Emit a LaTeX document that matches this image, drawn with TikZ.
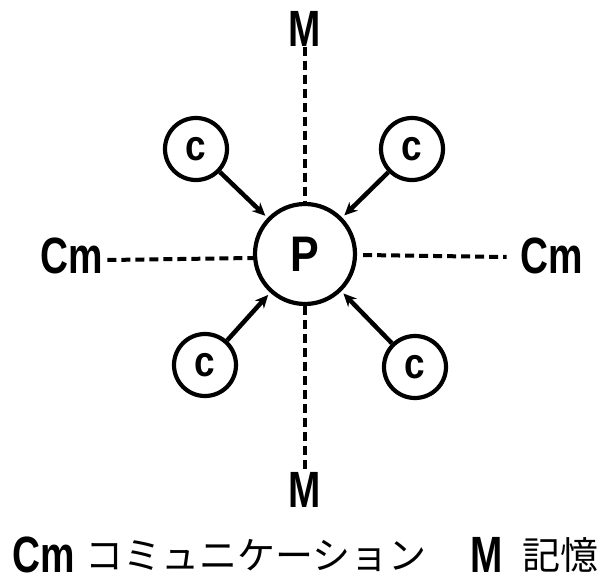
\documentclass[tikz,border=0pt]{standalone}
\usepackage{fontspec}
\setmainfont{Liberation Sans}
\newfontfamily\cond[FakeStretch=0.76]{Liberation Sans}
\newfontfamily\condr[FakeStretch=0.86]{Liberation Sans}
\newfontfamily\jp{Noto Sans CJK JP}
\usetikzlibrary{arrows.meta}
\begin{document}
\begin{tikzpicture}[x=1pt,y=-1pt,
  lbl/.style={font=\cond\bfseries\fontsize{51}{51}\selectfont, inner sep=0pt},
  mid/.style={font=\condr\bfseries\fontsize{50}{50}\selectfont},
  small/.style={font=\condr\bfseries\fontsize{43}{43}\selectfont},
  ring/.style={circle, draw, line width=4.2pt, inner sep=0pt},
  memline/.style={line width=4pt, dash pattern=on 9pt off 5pt},
  feed/.style={line width=4.5pt, -{Stealth[length=13pt,width=12pt]}, shorten >=3pt},
  jptext/.style={font=\jp\fontsize{38}{38}\selectfont, inner sep=0pt}]
\useasboundingbox (0,0) rectangle (614,583);

% central person and the four contacts
\node[ring, minimum size=100pt, mid] (P) at (305,254) {P};
\node[ring, minimum size=62pt, small] (c1) at (196,149) {c};
\node[ring, minimum size=62pt, small] (c2) at (412,149) {c};
\node[ring, minimum size=62pt, small] (c3) at (205,365) {c};
\node[ring, minimum size=62pt, small] (c4) at (415,367) {c};

% memory and communication labels
\node[lbl] (Mt) at (305,29) {M};
\node[lbl] (Mb) at (305,490) {M};
\node[lbl] (Cl) at (72,256) {Cm};
\node[lbl] (Cr) at (552,256) {Cm};

% dashed links
\draw[memline] (Mt) -- (P);
\draw[memline] (P) -- (Mb);
\draw[memline] ([xshift=4pt,yshift=-4pt]Cl.east) -- ([yshift=-4pt]P.west);
\draw[memline] ([xshift=6pt,yshift=-1pt]P.east) -- ([xshift=-14pt,yshift=-1pt]Cr.west);

% arrows from the contacts
\draw[feed] (c1) -- (P);
\draw[feed] (c2) -- (P);
\draw[feed] (c3) -- (P);
\draw[feed] (c4) -- (P);

% legend
\node[lbl, anchor=base west] (LCm) at (12,572) {Cm};
\node[jptext, anchor=base west] (LCmt) at (85,569) {コミュニケーション};
\node[lbl, anchor=base west] (LM) at (470,572) {M};
\node[jptext, anchor=base west] (LMt) at (522,569) {記憶};
\end{tikzpicture}
\end{document}
